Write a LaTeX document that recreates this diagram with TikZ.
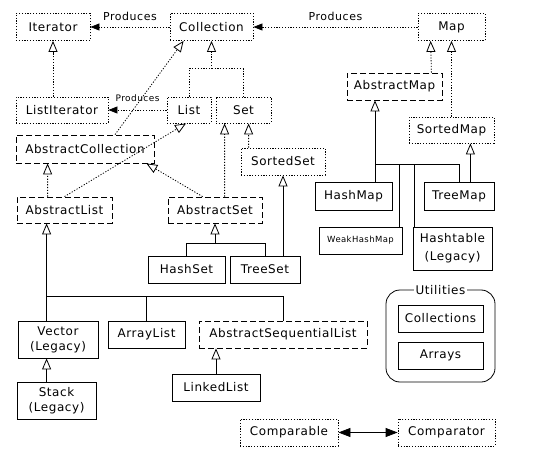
\documentclass[tikz,border=0pt]{standalone}
\usepackage{fontspec}
\setmainfont{DejaVu Sans}[LetterSpace=5]
\usetikzlibrary{arrows.meta, calc}

\begin{document}
\begin{tikzpicture}[
x=1bp, y=-1bp,
line width=0.8bp,
font=\fontsize{12}{15}\selectfont,
box/.style={
draw,
inner sep=0 pt,
minimum height=27bp,
align=center,
},
iface/.style={box, dash pattern=on 1.2bp off 1.6bp},
abstr/.style={box, dash pattern=on 6bp off 3bp},
impl/.style={box},
dots/.style={dash pattern=on 1.2bp off 1.6bp},
inherit/.style={-{Triangle[open, length=11bp, width=9bp]}},
produces/.style={dots, -{Triangle[length=9bp, width=7bp]}},
]
\useasboundingbox (0,0) rectangle (549,468);

% interfaces
\node [iface, minimum width=74bp] at (53,27) (Iterator) {Iterator};
\node [iface, minimum width=83bp] at (211.5,27) (Collection) {Collection};
\node [iface, minimum width=67bp] at (451.5,27) (Map) {Map};
\node [iface, minimum width=92bp, minimum height=26bp] at (62,110) (ListIterator) {ListIterator};
\node [iface, minimum width=44bp, minimum height=26bp] at (189,110) (List) {List};
\node [iface, minimum width=55bp, minimum height=26bp] at (243.5,110) (Set) {Set};
\node [iface, minimum width=84bp] at (283,161.5) (SortedSet) {SortedSet};
\node [iface, minimum width=85bp, minimum height=26bp] at (451.5,130) (SortedMap) {SortedMap};
\node [iface, minimum width=98bp] at (289,432.5) (Comparable) {Comparable};
\node [iface, minimum width=97bp] at (446.5,432.5) (Comparator) {Comparator};

% abstract classes
\node [abstr, minimum width=138bp, minimum height=28bp] at (85,149) (AbstractCollection) {AbstractCollection};
\node [abstr, minimum width=95bp] at (394.5,86.5) (AbstractMap) {AbstractMap};
\node [abstr, minimum width=95bp, minimum height=26bp] at (64.5,210) (AbstractList) {AbstractList};
\node [abstr, minimum width=94bp, minimum height=26bp] at (215,210) (AbstractSet) {AbstractSet};
\node [abstr, minimum width=168bp] at (283,334.5) (AbstractSequentialList) {AbstractSequentialList};

% concrete classes
\node [impl, minimum width=77bp] at (186.5,269.5) (HashSet) {HashSet};
\node [impl, minimum width=70bp] at (265,269.5) (TreeSet) {TreeSet};
\node [impl, minimum width=77bp, minimum height=28bp] at (353.5,196) (HashMap) {HashMap};
\node [impl, minimum width=70bp, minimum height=28bp] at (459,196) (TreeMap) {TreeMap};
\node [impl, minimum width=83bp, font=\fontsize{8.5}{10}\selectfont] at (360.5,240.5) (WeakHashMap) {WeakHashMap};
\node [impl, minimum width=79bp, minimum height=43bp, font=\fontsize{12}{18}\selectfont] at (452.5,248.5) (Hashtable) {Hashtable\\(Legacy)};
\node [impl, minimum width=80bp, minimum height=37bp] at (58,339.5) (Vector) {Vector\\(Legacy)};
\node [impl, minimum width=77bp] at (146.5,334.5) (ArrayList) {ArrayList};
\node [impl, minimum width=79bp, minimum height=37bp] at (56.5,400.5) (Stack) {Stack\\(Legacy)};
\node [impl, minimum width=88bp] at (216,387.5) (LinkedList) {LinkedList};

% utilities
\node [draw, rounded corners=14bp, minimum width=109bp, minimum height=92bp] at (440.5,336) (Utilities) {};
\node [fill=white, inner sep=2bp] at (Utilities.north) (UtilLabel) {Utilities};
\node [impl, minimum width=85bp] at (440.5,318.5) (Collections) {Collections};
\node [impl, minimum width=85bp] at (440.5,355.5) (Arrays) {Arrays};

% produces
\draw [produces] (Collection) -- node [above=3bp, font=\fontsize{11}{12}\selectfont] {Produces} (Iterator);
\draw [produces] (Map) -- node [above=3bp, font=\fontsize{11}{12}\selectfont] {Produces} (Collection);
\draw [produces] (List) -- node [above=5bp, font=\fontsize{9}{10}\selectfont] {Produces} (ListIterator);

% interface hierarchy
\draw [dots, inherit] (ListIterator.north -| Iterator.south) -- (Iterator.south);
\coordinate (jColl) at ($(Collection.south)+(0,28)$);
\draw [dots] (List.north) |- (jColl) -| (Set.north);
\draw [dots, inherit] (jColl) -- (Collection.south);
\draw [dots, inherit] ($(AbstractMap.north east)+(-11,0)$) -- ($(Map.south west)+(13,0)$);
\draw [dots, inherit] (SortedMap.north) -- (Map.south);

% abstract classes to interfaces
\draw [dots, inherit] ($(AbstractCollection.north)+(30,0)$) -- ($(Collection.south west)+(14,0)$);
\draw [dots, inherit] (AbstractList.north) -- ($(List.south)+(-3,0)$);
\draw [dots, inherit] ($(AbstractList.north west)+(31,0)$) -- ($(AbstractCollection.south west)+(32,0)$);
\draw [dots, inherit] ($(AbstractSet.north west)+(35,0)$) -- ($(AbstractCollection.south east)+(-8,0)$);
\draw [dots, inherit] ($(AbstractSet.north west)+(57,0)$) -- ($(Set.south west)+(9,0)$);
\draw [dots, inherit] ($(SortedSet.north west)+(8,0)$) -- ($(Set.south west)+(33,0)$);

% sets
\coordinate (jSet) at ($(AbstractSet.south)+(0,20)$);
\draw (HashSet.north) |- (jSet) -| (TreeSet.north);
\draw [inherit] (jSet) -- (AbstractSet.south);
\draw [inherit] (SortedSet.south |- TreeSet.north) -- (SortedSet.south);

% maps
\coordinate (jMap) at ($(AbstractMap.south)+(-19.5,64)$);
\coordinate (wTop) at ($(WeakHashMap.north east)+(-3,0)$);
\coordinate (hTop) at ($(Hashtable.north west)+(2,0)$);
\coordinate (tTop) at ($(TreeMap.north east)+(-24,0)$);
\draw [inherit] (jMap) -- (jMap |- AbstractMap.south);
\draw (jMap |- HashMap.north) -- (jMap) -| (TreeMap.north);
\draw (wTop) -- (wTop |- jMap);
\draw (hTop) -- (hTop |- jMap);
\draw [inherit] (tTop) -- (tTop |- SortedMap.south);

% lists
\coordinate (jList) at ($(AbstractList.south west)+(30,73)$);
\draw [inherit] (jList) -- (jList |- AbstractList.south);
\draw (jList |- Vector.north) -- (jList) -| (AbstractSequentialList.north);
\draw (ArrayList.north) -- (ArrayList.north |- jList);
\draw [inherit] (jList |- Stack.north) -- (jList |- Vector.south);
\draw [inherit] (LinkedList.north) -- (LinkedList.north |- AbstractSequentialList.south);

% comparison
\draw [{Triangle[length=12bp, width=9bp]}-{Triangle[length=12bp, width=9bp]}] (Comparable) -- (Comparator);

\end{tikzpicture}
\end{document}
